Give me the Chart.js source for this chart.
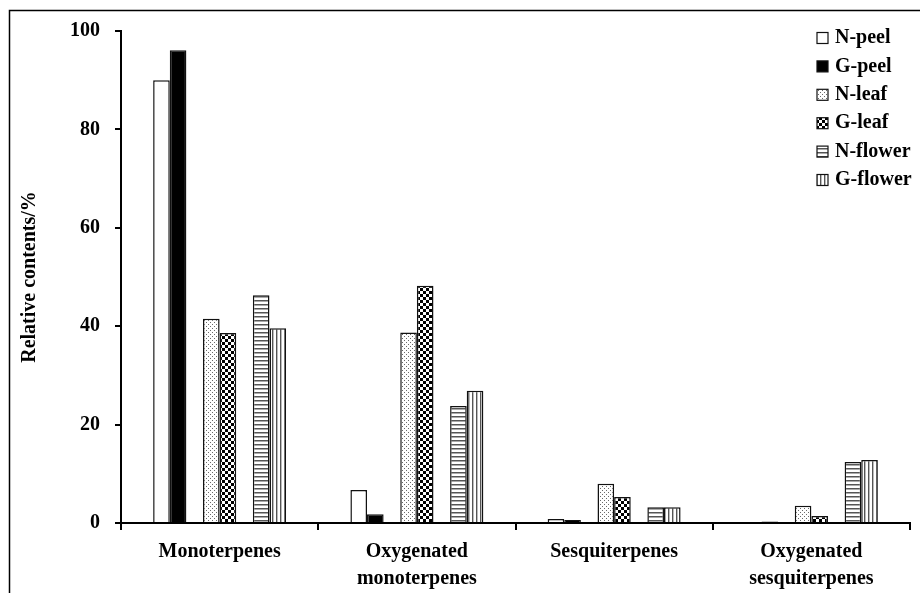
<!DOCTYPE html>
<html>
<head>
<meta charset="utf-8">
<script src="https://cdn.jsdelivr.net/npm/chart.js@4.4.1/dist/chart.umd.min.js"></script>
<style>
  html, body { margin: 0; padding: 0; background: #fff; }
  #wrap { width: 920px; height: 593px; position: relative; }
</style>
</head>
<body>
<div id="wrap"><canvas id="c" width="920" height="593"></canvas></div>
<script>
// ---- Data ----
const categories = [['Monoterpenes'], ['Oxygenated', 'monoterpenes'], ['Sesquiterpenes'], ['Oxygenated', 'sesquiterpenes']];
const seriesNames = ['N-peel', 'G-peel', 'N-leaf', 'G-leaf', 'N-flower', 'G-flower'];
const nPeel   = [90.0, 6.7, 0.8, 0.0];
const gPeel   = [96.1, 1.8, 0.6, 0.3];
const nLeaf   = [41.5, 38.7, 8.0, 3.5];
const gLeaf   = [38.6, 48.2, 5.3, 1.4];
const nFlower = [46.3, 23.8, 3.2, 12.4];
const gFlower = [39.6, 26.9, 3.2, 12.8];
const yTicks  = [0, 20, 40, 60, 80, 100];
const yTitle  = 'Relative contents/%';

// ---- Fill patterns ----
function makePattern(w, h, draw) {
  const cv = document.createElement('canvas');
  cv.width = w; cv.height = h;
  const g = cv.getContext('2d');
  g.fillStyle = '#fff'; g.fillRect(0, 0, w, h);
  draw(g);
  return g.createPattern(cv, 'repeat');
}
const patDots = makePattern(4, 4, g => {
  g.fillStyle = '#6a6a6a';
  g.fillRect(0, 0, 1, 1); g.fillRect(2, 2, 1, 1);
});
const patCheck = makePattern(6, 6, g => {
  g.fillStyle = '#000';
  g.fillRect(0, 0, 3, 3); g.fillRect(3, 3, 3, 3);
});
const patHoriz = makePattern(1, 4, g => {
  g.fillStyle = '#555'; g.fillRect(0, 0, 1, 1);
  g.fillStyle = '#aaa'; g.fillRect(0, 1, 1, 1);
});
const patVert = makePattern(4, 1, g => {
  g.fillStyle = '#555'; g.fillRect(0, 0, 1, 1);
  g.fillStyle = '#bbb'; g.fillRect(1, 0, 1, 1);
});

const FONT = '"Liberation Serif", "Times New Roman", serif';
const blank = categories.map(() => null);

function ds(label, data, fill, legend) {
  return { label, data, backgroundColor: fill, borderColor: '#111', borderWidth: 1.5,
           borderSkipped: 'start', showInLegend: legend,
           barPercentage: 1.0, categoryPercentage: 0.674 };
}
const datasets = [
  ds(seriesNames[0], nPeel, '#ffffff', true),
  ds(seriesNames[1], gPeel, '#000000', true),
  ds('', blank, 'rgba(0,0,0,0)', false),
  ds(seriesNames[2], nLeaf, patDots, true),
  ds(seriesNames[3], gLeaf, patCheck, true),
  ds('', blank, 'rgba(0,0,0,0)', false),
  ds(seriesNames[4], nFlower, patHoriz, true),
  ds(seriesNames[5], gFlower, patVert, true)
];

// frame (top + left line of the figure box)
const framePlugin = {
  id: 'frame',
  beforeDraw(chart) {
    const ctx = chart.ctx;
    ctx.save();
    ctx.fillStyle = '#fff';
    ctx.fillRect(0, 0, chart.width, chart.height);
    ctx.strokeStyle = '#000';
    ctx.lineWidth = 1.5;
    ctx.beginPath();
    ctx.moveTo(9.5, chart.height);
    ctx.lineTo(9.5, 10.5);
    ctx.lineTo(chart.width, 10.5);
    ctx.stroke();
    ctx.restore();
  }
};

// legend drawn inside the plot, top right
const legendPlugin = {
  id: 'boxLegend',
  afterDraw(chart) {
    const ctx = chart.ctx;
    ctx.save();
    ctx.font = 'bold 20px ' + FONT;
    ctx.textBaseline = 'middle';
    ctx.fillStyle = '#000';
    let i = 0;
    chart.data.datasets.forEach(d => {
      if (!d.showInLegend) return;
      const cy = 38 + i * 28.4;
      ctx.fillStyle = d.backgroundColor;
      ctx.fillRect(817, cy - 5.5, 11, 11);
      ctx.strokeStyle = '#111';
      ctx.lineWidth = 1.2;
      ctx.strokeRect(817, cy - 5.5, 11, 11);
      ctx.fillStyle = '#000';
      ctx.fillText(d.label, 835, cy);
      i++;
    });
    ctx.restore();
  }
};

new Chart(document.getElementById('c'), {
  type: 'bar',
  data: { labels: categories, datasets },
  options: {
    responsive: false,
    animation: false,
    layout: { padding: { left: 0, right: 10, top: 31, bottom: 0 } },
    plugins: { legend: { display: false }, tooltip: { enabled: false } },
    scales: {
      x: {
        offset: true,
        grid: { display: true, drawOnChartArea: false, offset: true, tickLength: 7, color: '#000', lineWidth: 2 },
        border: { display: true, color: '#000', width: 2 },
        ticks: { color: '#000', font: { family: FONT, size: 20, weight: 'bold', lineHeight: 1.35 }, padding: 8.5, maxRotation: 0, autoSkip: false },
        afterFit(s) { s.height = 70; }
      },
      y: {
        min: 0, max: 100,
        afterBuildTicks(s) { s.ticks = yTicks.map(v => ({ value: v })); },
        grid: { display: true, drawOnChartArea: false, tickLength: 6, color: '#000', lineWidth: 2 },
        border: { display: true, color: '#000', width: 2 },
        ticks: { color: '#000', font: { family: FONT, size: 20, weight: 'bold' }, padding: 15 },
        title: { display: true, text: yTitle, color: '#000', font: { family: FONT, size: 20, weight: 'bold' }, padding: { top: 18, bottom: 0 } },
        afterFit(s) { s.width = 121; }
      }
    }
  },
  plugins: [framePlugin, legendPlugin]
});
</script>
</body>
</html>
